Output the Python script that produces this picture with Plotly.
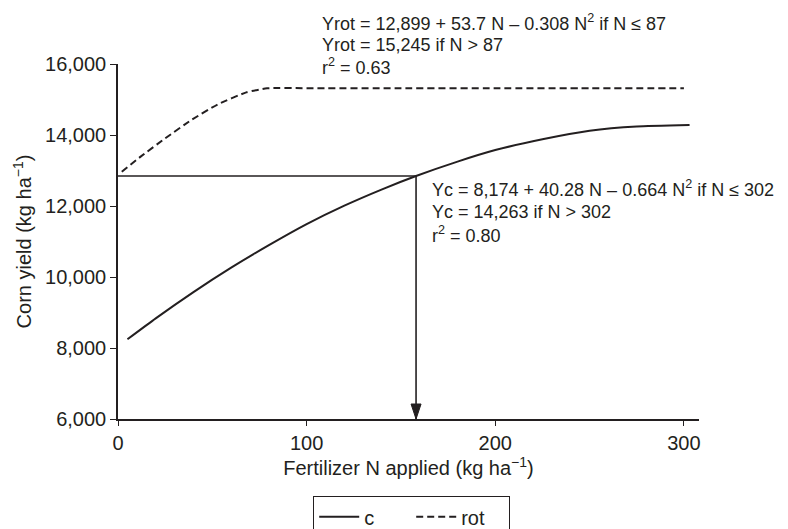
import plotly.graph_objects as go

# ---- data ----
n_c = [5, 20, 40, 60, 80, 100, 120, 140, 158, 180, 200, 225, 250, 275, 303]
yield_c = [8245, 8835, 9575, 10263, 10897, 11490, 12010, 12470, 12845, 13250, 13575, 13880,
           14120, 14240, 14280]

n_rot = [2, 12, 25, 39, 53, 68, 79, 100, 150, 200, 250, 300]
yield_rot = [12965, 13390, 13905, 14425, 14865, 15200, 15315, 15320, 15320, 15320, 15320, 15320]

target_n = 158          # N rate where continuous corn equals rotation at zero N
target_yield = 12845

x_ticks = [0, 100, 200, 300]
y_ticks = [6000, 8000, 10000, 12000, 14000, 16000]
y_tick_labels = ["6,000", "8,000", "10,000", "12,000", "14,000", "16,000"]

rot_eq_lines = ["Yrot = 12,899 + 53.7 N – 0.308 N<sup>2</sup> if N ≤ 87",
                "Yrot = 15,245 if N > 87",
                "r<sup>2</sup> = 0.63"]
c_eq_lines = ["Yc = 8,174 + 40.28 N – 0.664 N<sup>2</sup> if N ≤ 302",
              "Yc = 14,263 if N > 302",
              "r<sup>2</sup> = 0.80"]

FONT = "Liberation Sans, Arial, sans-serif"
INK = "#231f20"

fig = go.Figure()
fig.add_trace(go.Scatter(x=n_c, y=yield_c, mode="lines", name="c",
                         line=dict(color=INK, width=2, shape="spline", smoothing=0.5)))
fig.add_trace(go.Scatter(x=n_rot, y=yield_rot, mode="lines", name="rot",
                         line=dict(color=INK, width=2, dash="7px,4px", shape="spline", smoothing=0.5)))

# horizontal reference line and vertical drop line
fig.add_shape(type="line", xref="x", yref="y", x0=0, x1=target_n, y0=target_yield, y1=target_yield,
              line=dict(color=INK, width=1.6))
fig.add_shape(type="line", xref="x", yref="y", x0=target_n, x1=target_n, y0=target_yield, y1=y_ticks[0],
              line=dict(color=INK, width=1.6))
# arrow head (pixel-sized path anchored at the data point)
fig.add_shape(type="path", xref="x", yref="y", xsizemode="pixel", ysizemode="pixel",
              xanchor=target_n, yanchor=y_ticks[0],
              path="M-5,15 L5,15 L0,0 Z", fillcolor=INK, line=dict(color=INK, width=1))

rot_pos_y = [1.118, 1.053, 0.992]
c_pos_y = [0.648, 0.583, 0.521]
for txt, py in zip(rot_eq_lines, rot_pos_y):
    fig.add_annotation(xref="paper", yref="paper", x=0.3477, y=py, xanchor="left", yanchor="middle",
                       align="left", showarrow=False, text=txt,
                       font=dict(family=FONT, size=18, color=INK))
for txt, py in zip(c_eq_lines, c_pos_y):
    fig.add_annotation(xref="paper", yref="paper", x=0.537, y=py, xanchor="left", yanchor="middle",
                       align="left", showarrow=False, text=txt,
                       font=dict(family=FONT, size=18, color=INK))

# the page body adds an 8px offset, so margins are set to land the plot area where the reference has it
fig.update_layout(
    width=788, height=529,
    margin=dict(l=110, r=97, t=56, b=118, autoexpand=False),
    paper_bgcolor="white", plot_bgcolor="white",
    font=dict(family=FONT, size=20, color=INK),
    showlegend=True,
    legend=dict(orientation="h", x=0.505, xanchor="center", y=-0.217, yanchor="top",
                bordercolor=INK, borderwidth=1.3, font=dict(size=20),
                itemwidth=40, entrywidth=42, entrywidthmode="pixels", tracegroupgap=0),
    xaxis=dict(range=[0, 308], tickvals=x_ticks, showgrid=False, zeroline=False, automargin=False,
               showline=True, linecolor=INK, linewidth=1.6,
               ticks="outside", ticklen=5, tickwidth=1.3, tickcolor=INK,
               title=dict(text="Fertilizer N applied (kg ha<sup>−1</sup>)", standoff=4,
                          font=dict(size=20))),
    yaxis=dict(range=[6000, 16000], tickvals=y_ticks, ticktext=y_tick_labels,
               showgrid=False, zeroline=False, automargin=False,
               showline=True, linecolor=INK, linewidth=1.6,
               ticks="outside", ticklen=6, tickwidth=1.3, tickcolor=INK,
               title=dict(text="Corn yield (kg ha<sup>−1</sup>)", standoff=8,
                          font=dict(size=20))),
)

fig.write_html("out.html")
